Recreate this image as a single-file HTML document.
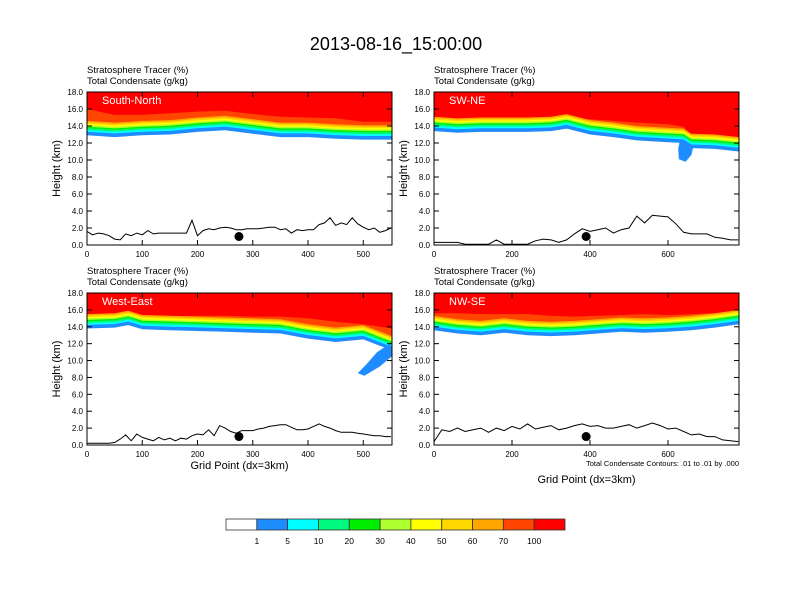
<!DOCTYPE html>
<html><head><meta charset="utf-8"><style>
body{margin:0;background:#fff}
svg{display:block;font-family:"Liberation Sans",sans-serif}
</style></head><body>
<svg id="chart" width="792" height="612" viewBox="0 0 792 612" xmlns="http://www.w3.org/2000/svg">
<rect width="792" height="612" fill="#fff"/>
<text x="396" y="50" font-size="18" text-anchor="middle">2013-08-16_15:00:00</text>
<g id="panels"></g>
<g id="cbar"></g>
</svg>
<script>
const NS="http://www.w3.org/2000/svg";
const levelColors=["#1e8cff","#00ffff","#00fa7f","#00ee00","#adff2f","#ffff00","#ffd700","#ffa500","#ff4500"];
const levelFracs=[0,0.25,0.38,0.5,0.6,0.7,0.8,0.9,1.0];
const levelSpan=1.7;
const cbarLabels=["1","5","10","20","30","40","50","60","70","100"];
const cbarColors=["#ffffff","#1e8cff","#00ffff","#00fa7f","#00ee00","#adff2f","#ffff00","#ffd700","#ffa500","#ff4500","#ff0000"];

const snBaseX=[0,50,100,150,200,250,300,350,400,450,500,552];
const snBase=[12.9,12.7,12.9,13.0,13.3,13.5,13.1,12.7,12.7,12.5,12.4,12.4];
const snRed=[16.0,15.3,15.3,15.5,15.7,15.8,15.4,15.1,15.0,14.9,14.5,14.5];
const snTerrain=[1.6,1.2,1.4,1.3,1.1,0.7,0.6,1.3,1.1,1.4,1.2,1.7,1.3,1.4,1.4,1.4,1.4,1.4,1.4,2.9,1.1,1.7,1.9,1.8,2.0,2.1,2.0,1.8,1.8,1.9,1.9,1.9,2.0,2.1,2.1,1.8,1.9,1.4,1.8,1.7,1.8,1.8,2.4,2.6,3.2,2.3,2.6,2.4,3.2,2.5,2.1,1.8,2.0,1.5,1.7,2.0];

const swBaseX=[0,60,120,180,240,300,340,400,460,520,600,640,660,720,782];
const swBase=[13.4,13.2,13.3,13.3,13.3,13.4,13.7,13.0,12.7,12.3,12.1,12.0,11.4,11.3,11.0];
const swRed=[14.5,14.3,14.3,14.4,14.3,14.6,14.9,14.8,14.6,14.4,14.2,13.9,12.8,12.6,12.6];
const swTerrain=[0.3,0.3,0.3,0.3,0.1,0.1,0.1,0.1,0.6,0.1,0.1,0.1,0.1,0.5,0.7,0.6,0.3,0.6,1.3,1.9,1.6,1.8,2.0,1.4,1.8,2.0,3.4,2.6,3.5,3.4,3.3,2.5,1.5,1.3,1.3,1.3,0.9,0.8,0.6,0.6];
const swBlobX=[630,665,660,645,628,626];
const swBlobY=[12.2,11.6,10.6,9.8,10.1,11.3];

const weBaseX=[0,50,75,100,150,200,250,300,350,400,450,500,552];
const weBase=[13.8,13.9,14.2,13.7,13.6,13.5,13.4,13.3,13.2,12.6,12.2,12.5,11.2];
const weRed=[15.2,15.2,15.5,15.3,15.2,15.3,15.3,15.2,15.2,15.0,14.6,14.3,13.8];
const weTerrain=[0.2,0.2,0.2,0.2,0.2,0.3,0.7,1.2,0.5,1.3,0.9,0.7,0.5,0.9,0.6,0.8,0.5,0.8,0.7,1.1,1.3,1.2,1.8,1.1,2.3,2.0,1.6,1.4,1.7,1.7,1.7,1.9,2.0,2.2,2.3,2.4,2.4,2.1,1.8,1.8,1.9,2.2,2.5,2.2,2.0,1.7,1.5,1.5,1.5,1.4,1.3,1.2,1.1,1.1,1.0,1.0];
const weBlobX=[548,525,505,490,502,530,552,552];
const weBlobY=[12.0,11.0,9.5,8.5,8.2,9.3,10.5,11.5];

const nwBaseX=[0,60,120,180,240,300,360,420,480,540,600,660,720,782];
const nwBase=[13.6,13.2,13.0,13.3,13.0,12.9,13.0,13.2,13.4,13.3,13.4,13.6,13.9,14.3];
const nwRed=[15.6,15.6,15.5,15.5,15.5,15.3,15.2,15.3,15.4,15.5,15.4,15.5,15.6,15.8];
const nwTerrain=[0.4,1.8,1.6,2.0,1.6,1.8,2.0,1.5,2.0,1.7,2.2,1.9,2.5,1.9,2.1,2.3,1.8,2.0,2.3,2.5,2.2,2.3,2.0,2.0,2.2,2.4,2.0,2.3,2.6,2.3,1.9,2.0,1.6,1.2,1.3,1.0,1.0,0.6,0.5,0.4];

const panels=[
 {name:"south-north",label:"South-North",x0:87,x1:392,yb:245,yt:92,xmax:552,xticks:[0,100,200,300,400,500],bx:snBaseX,base:snBase,red:snRed,ter:snTerrain,tstep:10,dot:275,grid:false},
 {name:"sw-ne",label:"SW-NE",x0:434,x1:739,yb:245,yt:92,xmax:782,xticks:[0,200,400,600],bx:swBaseX,base:swBase,red:swRed,ter:swTerrain,tstep:20,dot:390,blobX:swBlobX,blobY:swBlobY,grid:false},
 {name:"west-east",label:"West-East",x0:87,x1:392,yb:445,yt:293,xmax:552,xticks:[0,100,200,300,400,500],bx:weBaseX,base:weBase,red:weRed,ter:weTerrain,tstep:10,dot:275,blobX:weBlobX,blobY:weBlobY,grid:true},
 {name:"nw-se",label:"NW-SE",x0:434,x1:739,yb:445,yt:293,xmax:782,xticks:[0,200,400,600],bx:nwBaseX,base:nwBase,red:nwRed,ter:nwTerrain,tstep:20,dot:390,grid:true,note:true}
];
function mk(tag,attrs,parent){const e=document.createElementNS(NS,tag);for(const k in attrs)e.setAttribute(k,attrs[k]);parent.appendChild(e);return e;}
const root=document.getElementById("panels");
panels.forEach(p=>{
 const g=mk("g",{},root);
 
 
 const sx=v=>p.x0+(p.x1-p.x0)*v/p.xmax;
 const sy=v=>p.yb-(p.yb-p.yt)*v/18;
 const clip="clip-"+p.name;
 const cp=mk("clipPath",{id:clip},g);mk("rect",{x:p.x0,y:p.yt,width:p.x1-p.x0,height:p.yb-p.yt},cp);
 const pg=mk("g",{"clip-path":"url(#"+clip+")"},g);
 const red=mk("rect",{x:p.x0,y:p.yt,width:p.x1-p.x0,height:p.yb-p.yt,fill:"#ff0000"},pg);
 
 
 const edge=k=>p.bx.map((x,i)=>k===9?p.red[i]:p.base[i]+levelSpan*levelFracs[k]);
 function fillBelow(vals,color,nm){
  let d="M"+sx(p.bx[0])+","+p.yb;
  p.bx.forEach((x,i)=>{d+=" L"+sx(x).toFixed(1)+","+sy(vals[i]).toFixed(1);});
  d+=" L"+sx(p.bx[p.bx.length-1])+","+p.yb+" Z";
  const e=mk("path",{d:d,fill:color},pg);
  
  
 }
 for(let k=9;k>=1;k--) fillBelow(edge(k),levelColors[k-1],"tracer-band-"+k);
 fillBelow(edge(0),"#ffffff","clear-air");
 if(p.blobX){
  const pts=p.blobX.map((x,i)=>sx(x).toFixed(1)+","+sy(p.blobY[i]).toFixed(1)).join(" ");
  const b=mk("polygon",{points:pts,fill:"#1e8cff"},pg);
  
  
 }
 let td="";
 p.ter.forEach((v,i)=>{td+=(i?" L":"M")+sx(i*p.tstep).toFixed(1)+","+sy(v).toFixed(1);});
 const t=mk("path",{d:td,fill:"none",stroke:"#000","stroke-width":1},pg);
 
 
 const dot=mk("circle",{cx:sx(p.dot),cy:sy(1.0),r:4.5,fill:"#000"},g);
 
 
 const lb=mk("text",{x:p.x0+15,y:p.yt+12,fill:"#fff","font-size":11},g);lb.textContent=p.label;
 
 
 const fr=mk("rect",{x:p.x0,y:p.yt,width:p.x1-p.x0,height:p.yb-p.yt,fill:"none",stroke:"#000","stroke-width":1},g);
 
 
 for(let v=0;v<=18;v+=2){
  const y=sy(v);
  mk("line",{x1:p.x0,x2:p.x0+5,y1:y,y2:y,stroke:"#000"},g);
  mk("line",{x1:p.x1,x2:p.x1-5,y1:y,y2:y,stroke:"#000"},g);
  const tl=mk("text",{x:p.x0-4,y:y+3,"font-size":8,"text-anchor":"end"},g);tl.textContent=v.toFixed(1);
  
  
 }
 p.xticks.forEach(v=>{
  const x=sx(v);
  mk("line",{x1:x,x2:x,y1:p.yb,y2:p.yb-5,stroke:"#000"},g);
  mk("line",{x1:x,x2:x,y1:p.yt,y2:p.yt+5,stroke:"#000"},g);
  const tl=mk("text",{x:x,y:p.yb+12,"font-size":8,"text-anchor":"middle"},g);tl.textContent=v;
  
  
 });
 const h1=mk("text",{x:p.x0,y:p.yt-19,"font-size":9.5},g);h1.textContent="Stratosphere Tracer   (%)";
 
 
 const h2=mk("text",{x:p.x0,y:p.yt-8,"font-size":9.5},g);h2.textContent="Total Condensate   (g/kg)";
 
 
 const yl=mk("text",{x:0,y:0,"font-size":11,"text-anchor":"middle",transform:"translate("+(p.x0-27)+","+((p.yb+p.yt)/2)+") rotate(-90)"},g);yl.textContent="Height (km)";
 
 
 if(p.grid){
  const xl=mk("text",{x:(p.x0+p.x1)/2,y:p.yb+(p.note?38:24),"font-size":11,"text-anchor":"middle"},g);xl.textContent="Grid Point (dx=3km)";
  
  
 }
 if(p.note){
  const n=mk("text",{x:p.x1,y:p.yb+21,"font-size":7.5,"text-anchor":"end"},g);n.textContent="Total Condensate Contours: .01 to .01 by .000";
  
  
 }
});
const cb=document.getElementById("cbar");
const cbx0=226,cbx1=565,cby=519,cbh=11;
const bw=(cbx1-cbx0)/cbarColors.length;
cbarColors.forEach((c,i)=>{
 const r=mk("rect",{x:cbx0+i*bw,y:cby,width:bw,height:cbh,fill:c,stroke:"#333","stroke-width":0.8},cb);
 
 
});
cbarLabels.forEach((l,i)=>{
 const t=mk("text",{x:cbx0+(i+1)*bw,y:cby+cbh+14,"font-size":8.5,"text-anchor":"middle"},cb);t.textContent=l;
 
 
});
</script>
</body></html>
